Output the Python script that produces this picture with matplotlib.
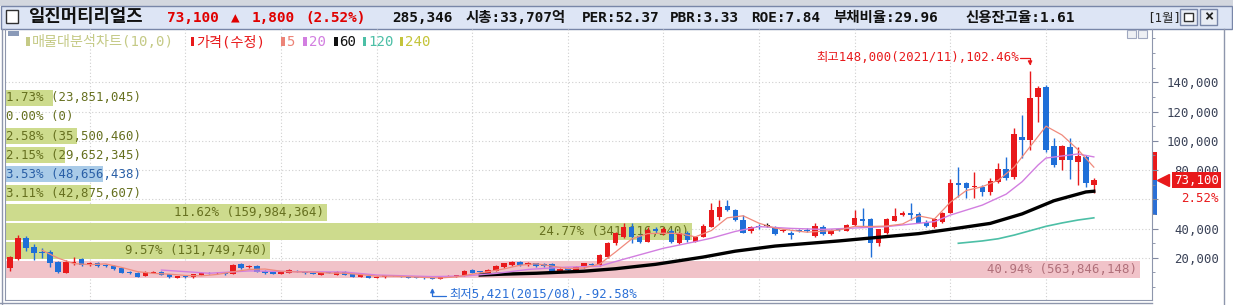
import numpy as np
import pandas as pd
import matplotlib
matplotlib.use('Agg')
from matplotlib import pyplot as plt
from matplotlib import patches, transforms
from matplotlib.ticker import MultipleLocator, FuncFormatter

plt.rcParams['font.family'] = ['DejaVu Sans Mono', 'Noto Sans CJK KR']

W, H = 1233, 305

# 월봉 (수정주가), 단위: 천원, 2011/03 ~ 2022/07
firstMonth = '2011-03'
opens = [12.8, 18.9, 33.3, 27.5, 24.1, 24.1, 17.3, 9.8, 16.2, 18.9,
         15.0, 16.6, 15.2, 14.4, 12.8, 10.5, 9.8, 7.5, 9.8, 10.5,
         8.7, 6.4, 7.5, 6.6, 8.2, 9.8, 9.35, 9.8, 8.9, 15.4,
         13.4, 14.4, 11.0, 10.5, 8.9, 9.8, 11.0, 10.5, 9.8, 8.2,
         9.9, 8.2, 10.5, 8.9, 6.8, 7.8, 6.3, 6.6, 7.6, 7.5,
         7.1, 6.4, 6.3, 5.9, 5.6, 7.0, 7.3, 7.5, 11.6, 10.5,
         9.8, 11.0, 13.4, 15.0, 17.3, 15.0, 16.2, 15.8, 15.5, 10.8,
         13.3, 11.5, 13.5, 15.6, 15.0, 20.8, 29.9, 34.5, 41.3, 35.0,
         31.1, 39.5, 36.7, 38.5, 30.4, 37.2, 31.1, 34.5, 41.3, 48.2,
         55.5, 52.7, 45.9, 38.5, 42.0, 41.8, 41.3, 38.5, 37.2, 39.0,
         39.0, 34.7, 41.3, 36.3, 39.8, 38.6, 42.5, 46.3, 46.3, 29.9,
         37.2, 45.4, 49.3, 50.4, 49.8, 44.7, 41.3, 44.7, 50.9, 70.9,
         70.9, 68.4, 68.6, 65.2, 72.0, 80.5, 75.5, 102.4, 100.6, 129.7,
         137.0, 96.5, 86.9, 95.6, 85.8, 89.2, 70.0]
highs = [21.0, 35.6, 35.0, 29.4, 26.4, 25.0, 18.0, 18.5, 20.3, 19.8,
         17.3, 17.0, 15.6, 14.8, 13.2, 10.9, 10.1, 11.0, 10.9, 10.8,
         9.0, 7.8, 7.8, 9.0, 10.1, 10.1, 10.1, 10.0, 15.6, 16.2,
         14.8, 14.8, 11.3, 10.8, 10.8, 12.0, 11.4, 10.8, 10.1, 9.8,
         10.3, 10.8, 10.8, 9.2, 8.6, 8.0, 7.3, 8.5, 7.9, 7.7,
         7.3, 6.6, 6.5, 6.3, 7.8, 7.9, 8.5, 11.3, 12.5, 10.9,
         12.0, 14.8, 16.6, 17.9, 17.8, 17.0, 16.6, 16.2, 16.2, 13.0,
         14.0, 14.4, 16.6, 16.2, 22.5, 31.1, 37.5, 43.5, 43.5, 36.0,
         41.0, 41.3, 41.3, 39.5, 37.5, 38.0, 35.0, 43.0, 57.2, 59.5,
         59.5, 53.5, 49.3, 42.0, 43.0, 43.5, 42.0, 40.0, 38.0, 40.0,
         40.2, 44.0, 42.5, 39.5, 40.5, 43.0, 52.7, 53.9, 47.5, 40.0,
         47.0, 53.9, 52.0, 57.2, 51.0, 45.5, 47.0, 51.0, 73.6, 82.4,
         72.0, 78.9, 69.5, 74.5, 84.6, 89.2, 108.6, 117.7, 148.0, 137.5,
         138.0, 101.8, 97.0, 101.8, 96.0, 90.5, 74.4]
lows = [11.2, 18.5, 24.9, 18.5, 19.6, 13.9, 9.35, 9.5, 15.0, 14.5,
        14.5, 13.9, 13.9, 11.8, 9.4, 9.0, 6.8, 7.2, 9.5, 7.9,
        6.3, 6.2, 6.3, 6.4, 8.0, 9.1, 9.1, 8.4, 8.6, 12.5,
        13.0, 10.2, 9.0, 8.6, 8.7, 9.5, 10.2, 9.1, 8.6, 8.0,
        9.4, 8.0, 7.9, 6.6, 6.5, 6.2, 6.0, 6.4, 7.2, 6.6,
        6.1, 6.0, 5.7, 5.421, 5.5, 6.8, 7.1, 7.3, 9.5, 9.8,
        9.6, 10.8, 13.0, 14.6, 14.6, 14.6, 14.0, 14.0, 10.5, 10.5,
        11.0, 11.2, 13.0, 14.6, 14.6, 20.0, 29.0, 33.5, 29.9, 29.9,
        30.5, 37.0, 35.5, 30.0, 29.5, 31.0, 30.5, 34.0, 41.0, 45.9,
        52.0, 45.0, 36.7, 37.0, 40.0, 41.0, 35.5, 37.5, 32.6, 37.5,
        37.8, 34.0, 35.5, 35.8, 38.0, 38.0, 42.0, 41.3, 20.4, 28.0,
        36.5, 45.0, 48.5, 45.9, 43.5, 41.0, 40.5, 44.0, 50.5, 61.8,
        60.6, 61.0, 62.0, 63.0, 71.0, 73.0, 74.0, 88.1, 93.8, 113.1,
        92.5, 82.4, 80.1, 73.7, 69.8, 68.5, 64.1]
closes = [20.3, 33.3, 26.4, 23.0, 23.0, 16.6, 10.5, 17.3, 17.3, 15.0,
          16.6, 14.4, 14.6, 12.1, 9.8, 9.35, 7.1, 10.5, 10.5, 8.2,
          6.6, 7.5, 6.6, 8.7, 9.8, 9.35, 9.8, 8.6, 15.0, 12.8,
          14.4, 10.5, 9.35, 8.9, 10.5, 11.6, 10.5, 9.35, 8.9, 9.35,
          9.6, 10.5, 8.2, 6.9, 8.2, 6.4, 7.0, 8.2, 7.4, 6.8,
          6.3, 6.2, 5.9, 5.6, 7.5, 7.6, 8.2, 11.0, 9.8, 10.2,
          11.6, 14.4, 16.2, 17.3, 15.0, 16.6, 14.4, 14.4, 11.0, 12.5,
          11.5, 14.0, 16.2, 15.0, 21.9, 30.4, 36.7, 41.3, 34.5, 31.1,
          39.0, 38.5, 39.5, 31.1, 36.7, 32.2, 34.5, 41.8, 52.7, 55.0,
          52.7, 45.9, 37.2, 41.1, 41.3, 41.8, 36.3, 39.0, 35.6, 38.5,
          38.5, 41.8, 36.3, 38.5, 39.3, 42.5, 47.0, 45.4, 30.4, 39.5,
          46.3, 48.6, 50.9, 49.3, 44.0, 41.8, 46.3, 50.4, 70.9, 69.8,
          67.5, 69.0, 65.2, 72.7, 80.5, 74.4, 104.5, 100.6, 129.0, 135.9,
          93.8, 83.5, 96.5, 86.9, 89.6, 71.3, 73.1]

# 이동평균선 (그림에서 읽은 값, 천원)
ma5Idx = [4, 6, 8, 10, 12, 14, 16, 18, 20, 22, 24, 26, 28, 30, 32, 34, 36, 38, 40, 42,
          44, 46, 48, 50, 52, 54, 56, 58, 60, 62, 64, 66, 68, 70, 72, 74, 76, 78, 80, 82,
          84, 86, 88, 90, 92, 94, 96, 98, 100, 102, 104, 106, 108, 110, 112, 114, 116, 118,
          120, 122, 124, 126, 128, 130, 132, 134, 136]
ma5Val = [25.2, 19.8, 16.0, 15.3, 15.8, 13.4, 10.5, 9.3, 8.8, 7.9, 7.6, 8.6, 10.4, 12.0, 12.3,
          10.8, 10.3, 10.2, 9.5, 9.4, 8.5, 7.4, 7.4, 7.0, 6.5, 6.2, 6.9, 8.8, 10.5, 12.4,
          14.9, 15.9, 14.3, 12.6, 13.0, 15.7, 24.0, 32.8, 36.5, 36.8, 36.6, 34.3, 38.6, 47.3,
          48.7, 43.6, 40.3, 38.8, 37.5, 38.2, 38.9, 41.5, 41.4, 41.7, 43.1, 48.7, 46.5, 58.0,
          66.0, 68.6, 73.0, 82.0, 96.0, 110.0, 104.0, 94.0, 82.0]
ma20Idx = [19, 22, 25, 30, 36, 42, 46, 53, 57, 61, 65, 69, 74, 77, 82, 86, 88, 91, 94, 98,
           102, 110, 116, 118, 122, 125, 127, 129, 130, 134, 136]
ma20Val = [11.6, 10.5, 9.4, 11.0, 10.5, 10.2, 8.2, 7.1, 7.5, 9.3, 12.0, 13.4, 14.3, 19.0,
           26.5, 31.0, 33.4, 38.0, 41.3, 40.1, 39.4, 41.3, 44.7, 49.2, 56.0, 63.5, 72.0,
           83.4, 88.2, 91.0, 89.0]
ma60Idx = [59, 62, 66, 72, 76, 81, 87, 91, 96, 104, 110, 114, 118, 123, 127, 131, 135, 136]
ma60Val = [8.2, 8.8, 9.4, 10.8, 12.5, 15.5, 20.5, 24.5, 28.0, 31.5, 34.5, 36.5, 39.5, 43.5,
           50.0, 59.0, 65.0, 65.5]
ma120Idx = [119, 122, 124, 126, 128, 130, 132, 134, 136]
ma120Val = [29.9, 31.5, 33.0, 35.5, 38.5, 41.5, 43.8, 45.8, 47.3]

# 매물대 (아래 -> 위), 가격 구간: 최저가 ~ 최고종가 10등분
profileLow, profileHigh = 5421, 135900
profilePct = [40.94, 9.57, 24.77, 11.62, 3.11, 3.53, 2.15, 2.58, 0.00, 1.73]
profileVol = [563846148, 131749740, 341116240, 159984364, 42875607, 48656438,
              29652345, 35500460, 0, 23851045]

miniTop, miniBottom = 92300, 49200

headerItems = [(167, '73,100', '#e00000'), (231, '▲', '#e00000'), (252, '1,800', '#e00000'),
               (305, '(2.52%)', '#e00000'), (392, '285,346', '#111111'),
               (466, '시총:33,707억', '#111111'), (582, 'PER:52.37', '#111111'),
               (670, 'PBR:3.33', '#111111'), (751, 'ROE:7.84', '#111111'),
               (833, '부채비율:29.96', '#111111'), (965, '신용잔고율:1.61', '#111111')]
legendItems = [(26, '매물대분석차트(10,0)', '#c5ca86'), (191, '가격(수정)', '#e8191b'),
               (281, '5', '#ec8478'), (303, '20', '#d27ee0'), (334, '60', '#111111'),
               (363, '120', '#4cbfa6'), (400, '240', '#c4c43a')]

RED = '#e8191b'
BLUE = '#1f6fd8'

o = np.array(opens) * 1000
h = np.array(highs) * 1000
l = np.array(lows) * 1000
c = np.array(closes) * 1000
idx = np.arange(len(c))
months = pd.period_range(firstMonth, periods=len(c), freq='M')
janIdx = [i for i, m in enumerate(months) if m.month == 1]
last = c[-1]


def figRect(x0, y0, x1, y1, **kw):
    r = patches.Rectangle((x0 / W, 1 - y1 / H), (x1 - x0) / W, (y1 - y0) / H,
                          transform=fig.transFigure, **kw)
    fig.add_artist(r)
    return r


def figText(x, y, s, **kw):
    return fig.text(x / W, 1 - y / H, s, **kw)


def priceLabel(v, pos):
    # the change-rate box under the price marker hides the tick label just below it
    if 0 < last - v < 15000:
        return ''
    return f'{v:,.0f}'


fig = plt.figure(figsize=(W / 100, H / 100), dpi=100)
fig.patch.set_facecolor('white')

# header
figRect(0, 0, W, 6, fc='#d3d7df', ec='none')
figRect(1, 6, W - 1, 29, fc='#dde5f5', ec='#7886a8', lw=1)
figRect(6, 10, 18, 23, fc='white', ec='#303030', lw=1)
figText(28, 22, '일진머티리얼즈', fontsize=12.8, fontweight='bold',
        family=['Noto Sans CJK KR'], color='#111111', va='baseline')
for hx, txt, col in headerItems:
    figText(hx, 22, txt, fontsize=10.4, fontweight='bold', color=col, va='baseline')
figText(1147, 22, '[1월]', fontsize=9, color='#222222', va='baseline')
figRect(1180, 9, 1197, 25, fc='#e8ecf4', ec='#7886a8', lw=1)
figRect(1184, 13, 1193, 21, fc='white', ec='#303030', lw=1)
figRect(1200, 9, 1217, 25, fc='#e8ecf4', ec='#7886a8', lw=1)
figText(1208.5, 17, '×', fontsize=11, fontweight='bold', color='#222222', ha='center', va='center')

# main axes
ax = fig.add_axes([5 / W, 1 - 300 / H, (1152 - 5) / W, (300 - 29) / H])
ax2 = ax.twiny()
ax.set_zorder(2)
ax.patch.set_visible(False)
ax2.set_zorder(1)

xlo, xhi = -0.63, 143.3
ylo, yhi = -8892, 176470
profXMax = 1147 / 27.72

# grid (behind profile)
gridPrices = np.arange(20000, 140001, 20000)
ax2.hlines(gridPrices, 0, profXMax, colors='#cfcfcf', linestyles=(0, (1, 2)), lw=0.8, zorder=0)
blend = transforms.blended_transform_factory(ax.transData, ax.transAxes)
ax2.vlines(janIdx, 0, 1, transform=blend, colors='#cfcfcf', linestyles=(0, (1, 2)), lw=0.8, zorder=0)

# volume profile
edges = np.linspace(profileLow, profileHigh, len(profilePct) + 1)
binW = edges[1] - edges[0]
centers = (edges[:-1] + edges[1:]) / 2
curBin = int(np.searchsorted(edges, last) - 1)
maxBin = int(np.argmax(profilePct))
barCols, txtCols = [], []
for i in range(len(profilePct)):
    if i == maxBin:
        barCols.append('#f1c3c9'); txtCols.append('#b0707a')
    elif i == curBin:
        barCols.append('#a9cbe8'); txtCols.append('#2a5fa6')
    else:
        barCols.append('#cddb8d'); txtCols.append('#66701f')
ax2.barh(centers, profilePct, height=binW * 0.86, left=0, color=barCols, lw=0, zorder=1)
for i, (p, v) in enumerate(zip(profilePct, profileVol)):
    lbl = f'{p:.2f}% ({v:,})'
    if p > 5:
        ax2.text(p - 0.1, centers[i], lbl, ha='right', va='center', fontsize=8.9,
                 color=txtCols[i], zorder=2)
    else:
        ax2.text(0.03, centers[i], lbl, ha='left', va='center', fontsize=8.9,
                 color=txtCols[i], zorder=2)

# candles
cols = [RED if cc > oo else (BLUE if cc < oo else '#111111') for oo, cc in zip(o, c)]
ax.vlines(idx, l, h, colors=cols, lw=1.0, zorder=3)
bodyH = np.maximum(np.abs(c - o), 500)
bodyB = np.minimum(o, c)
ax.bar(idx, bodyH, bottom=bodyB, width=0.68, color=cols, lw=0, zorder=4)

# moving averages
ax.plot(ma120Idx, np.array(ma120Val) * 1000, color='#4cbfa6', lw=1.2, zorder=5)
ax.plot(ma60Idx, np.array(ma60Val) * 1000, color='#000000', lw=2.4, zorder=5)
ax.plot(ma20Idx, np.array(ma20Val) * 1000, color='#d27ee0', lw=1.0, zorder=6)
ax.plot(ma5Idx, np.array(ma5Val) * 1000, color='#f08a7c', lw=0.9, zorder=6)

# high / low annotations
pk = int(np.argmax(h))
lw_ = int(np.argmin(l))
pkTxt = f'최고{h[pk]:,.0f}({months[pk].strftime("%Y/%m")}),{(h[pk] / last - 1) * 100:.2f}%'
lwTxt = f'최저{l[lw_]:,.0f}({months[lw_].strftime("%Y/%m")}),{(l[lw_] / last - 1) * 100:.2f}%'
ax.text(pk, h[pk], pkTxt, transform=transforms.offset_copy(ax.transData, fig=fig, x=-11, y=13, units='dots'),
        ha='right', va='center', fontsize=8.9, color=RED, zorder=7)
ax.annotate('', xy=(pk, h[pk]),
            xycoords=transforms.offset_copy(ax.transData, fig=fig, x=0, y=5, units='dots'),
            xytext=(-10, 8), textcoords='offset pixels',
            arrowprops=dict(arrowstyle='-|>', color=RED, lw=0.9, shrinkA=0, shrinkB=0,
                            mutation_scale=6, connectionstyle='angle,angleA=0,angleB=90,rad=0'))
ax.text(lw_, l[lw_], lwTxt, transform=transforms.offset_copy(ax.transData, fig=fig, x=17, y=-15, units='dots'),
        ha='left', va='center', fontsize=8.9, color='#2a6fd6', zorder=7)
ax.annotate('', xy=(lw_, l[lw_]),
            xycoords=transforms.offset_copy(ax.transData, fig=fig, x=0, y=-9, units='dots'),
            xytext=(14, -8), textcoords='offset pixels',
            arrowprops=dict(arrowstyle='-|>', color='#2a6fd6', lw=0.9, shrinkA=0, shrinkB=0,
                            mutation_scale=6, connectionstyle='angle,angleA=0,angleB=90,rad=0'))

# axes styling
ax.set_xlim(xlo, xhi)
ax.set_ylim(ylo, yhi)
ax2.set_xlim(0, profXMax)
ax2.set_axis_off()
ax.set_xticks([])
ax.yaxis.tick_right()
ax.set_yticks(gridPrices)
ax.yaxis.set_minor_locator(MultipleLocator(10000))
ax.yaxis.set_major_formatter(FuncFormatter(priceLabel))
ax.tick_params(axis='y', which='major', direction='out', length=4, color='#8088a0',
               labelsize=8.9, labelcolor='#3a4257', pad=44.6)
ax.tick_params(axis='y', which='minor', direction='out', length=2, color='#8088a0')
for lbl in ax.get_yticklabels():
    lbl.set_horizontalalignment('right')
ax.spines['top'].set_visible(False)
for s in ['left', 'right', 'bottom']:
    ax.spines[s].set_color('#8e96ac')

# current price marker on the axis
yb = transforms.blended_transform_factory(fig.transFigure, ax.transData)
ax.add_patch(patches.Rectangle((1152 / W, last), 5 / W, miniTop - last, transform=yb,
                               fc=RED, ec='none', clip_on=False))
ax.add_patch(patches.Rectangle((1152 / W, miniBottom), 5 / W, last - miniBottom, transform=yb,
                               fc='#2a6fd6', ec='none', clip_on=False))
ax.plot([1163 / W], [last], marker='<', ms=8, color=RED, mec=RED, transform=yb, clip_on=False)
ax.text(1219 / W, last, f'{last:,.0f}', transform=yb, ha='right', va='center', fontsize=8.9,
        color='white', zorder=8, bbox=dict(boxstyle='square,pad=0.15', fc=RED, ec='none'))
ax.text(1219 / W, last, f'{(c[-1] / c[-2] - 1) * 100:.2f}%',
        transform=transforms.offset_copy(yb, fig=fig, x=0, y=-18, units='dots'),
        ha='right', va='center', fontsize=8.9, color=RED, zorder=8)

# legend row and frame bits
figRect(8, 31, 19, 36, fc='#8a9ab8', ec='none', zorder=10)
for lx, txt, col in legendItems:
    figRect(lx, 37, lx + 3.5, 46, fc=col, ec='none', zorder=10)
    figText(lx + 5.5, 46, txt, fontsize=10.2, color=col, va='baseline', zorder=10)
figRect(1127, 30, 1136, 38, fc='#eef0f4', ec='#a0a8c0', lw=0.8, zorder=10)
figRect(1138, 30, 1147, 38, fc='#eef0f4', ec='#a0a8c0', lw=0.8, zorder=10)
fig.add_artist(plt.Line2D([2 / W, 2 / W], [0, 1 - 29 / H], transform=fig.transFigure, color='#8e96ac', lw=1))
fig.add_artist(plt.Line2D([0, 1152 / W], [1 - 303 / H, 1 - 303 / H], transform=fig.transFigure, color='#8e96ac', lw=1))
fig.add_artist(plt.Line2D([1224 / W, 1224 / W], [0, 1 - 29 / H], transform=fig.transFigure, color='#8e96ac', lw=1))

fig.savefig('out.png', dpi=100, facecolor='white')
